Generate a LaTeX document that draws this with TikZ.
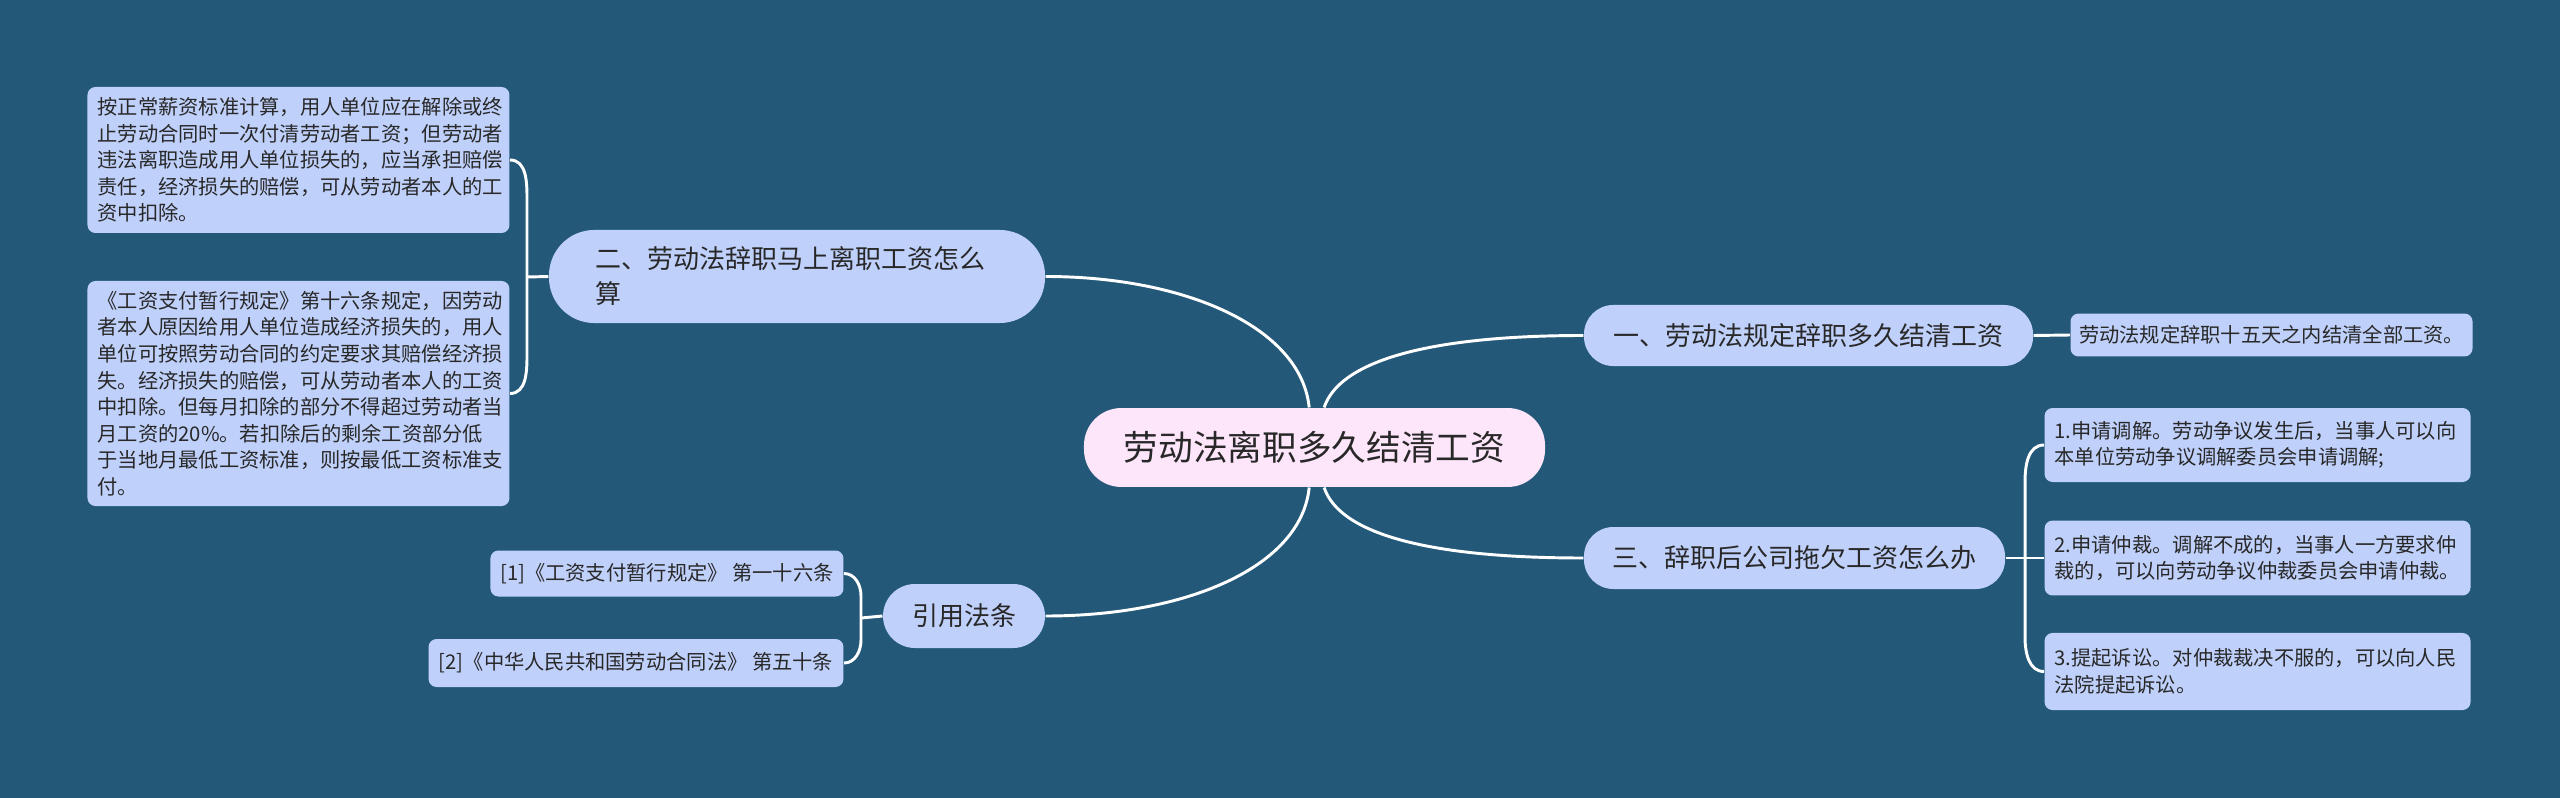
\documentclass[tikz,border=0pt]{standalone}
\usepackage{fontspec}
\setmainfont{Noto Sans CJK SC}
\usetikzlibrary{positioning}
\definecolor{bg}{RGB}{35,88,121}
\definecolor{nodeblue}{RGB}{191,208,250}
\definecolor{centerpink}{RGB}{253,229,250}
\definecolor{txt}{RGB}{40,40,40}
\tikzset{
  base/.style={text=txt, inner ysep=0pt},
  mainnode/.style={base, fill=nodeblue, font=\fontsize{9.75pt}{13.1pt}\selectfont},
  leafnode/.style={base, fill=nodeblue, rounded corners=3pt, font=\fontsize{7.6pt}{9.94pt}\selectfont},
  conn/.style={draw=white, line width=1.1pt},
}
\begin{document}
\begin{tikzpicture}[x=0.375pt,y=-0.375pt]
\fill[bg] (0,0) rectangle (2560,798);
\useasboundingbox (0,0) rectangle (2560,798);

% center
\node[base, fill=centerpink, rounded corners=14pt, minimum width=172.9pt, minimum height=29.6pt, inner xsep=0pt,
  font=\fontsize{13pt}{16pt}\selectfont] (c) at (1314.5,447.5) {劳动法离职多久结清工资};

% branch 1
\node[mainnode, rounded corners=11pt, minimum width=168.4pt, minimum height=22.9pt, inner xsep=0pt] (n1) at (1808.5,335.5) {一、劳动法规定辞职多久结清工资};
\node[leafnode, anchor=west, minimum width=150.75pt, minimum height=16.1pt, inner xsep=0pt] (l0) at (2070,335) {劳动法规定辞职十五天之内结清全部工资。};

% branch 3
\node[mainnode, rounded corners=11pt, minimum width=157.9pt, minimum height=23.25pt, inner xsep=0pt] (n3) at (1794.5,558) {三、辞职后公司拖欠工资怎么办};
\node[leafnode, anchor=west, text width=152.25pt, inner xsep=3.75pt, minimum height=27.75pt, align=left] (r1) at (2044,445) {1.申请调解。劳动争议发生后，当事人可以向\\本单位劳动争议调解委员会申请调解;};
\node[leafnode, anchor=west, text width=152.25pt, inner xsep=3.75pt, minimum height=28.1pt, align=left] (r2) at (2044,558) {2.申请仲裁。调解不成的，当事人一方要求仲\\裁的，可以向劳动争议仲裁委员会申请仲裁。};
\node[leafnode, anchor=west, text width=152.25pt, inner xsep=3.75pt, minimum height=28.9pt, align=left] (r3) at (2044,671.5) {3.提起诉讼。对仲裁裁决不服的，可以向人民\\法院提起诉讼。};

% branch 2
\node[mainnode, rounded corners=17pt, text width=151.5pt, inner xsep=17.25pt, minimum height=34.9pt, align=left] (n2) at (797,276.5) {二、劳动法辞职马上离职工资怎么\\算};
\node[leafnode, anchor=east, text width=150.75pt, inner xsep=3.75pt, minimum height=54.75pt, align=left] (a) at (510,160) {按正常薪资标准计算，用人单位应在解除或终\\止劳动合同时一次付清劳动者工资；但劳动者\\违法离职造成用人单位损失的，应当承担赔偿\\责任，经济损失的赔偿，可从劳动者本人的工\\资中扣除。};
\node[leafnode, anchor=east, text width=150.75pt, inner xsep=3.75pt, minimum height=84.4pt, align=left] (b) at (510,393.5) {《工资支付暂行规定》第十六条规定，因劳动\\者本人原因给用人单位造成经济损失的，用人\\单位可按照劳动合同的约定要求其赔偿经济损\\失。经济损失的赔偿，可从劳动者本人的工资\\中扣除。但每月扣除的部分不得超过劳动者当\\月工资的20\%。若扣除后的剩余工资部分低\\于当地月最低工资标准，则按最低工资标准支\\付。};

% references
\node[mainnode, rounded corners=12pt, minimum width=60.75pt, minimum height=24pt, inner xsep=0pt] (yy) at (964,616) {引用法条};
\node[leafnode, anchor=east, minimum width=132.4pt, minimum height=17.25pt, inner xsep=0pt] (f1) at (844,573.5) {[1]《工资支付暂行规定》 第一十六条};
\node[leafnode, anchor=east, minimum width=155.6pt, minimum height=18pt, inner xsep=0pt] (f2) at (844,663) {[2]《中华人民共和国劳动合同法》 第五十条};

% bracket joints
\coordinate (j2) at (527,277);
\coordinate (j3) at (2025,558);
\coordinate (jy) at (861,618);

% center connectors
\draw[conn] ([xshift=-2pt]c.north) .. controls +(-8,-80) and +(140,0) .. (n2.east);
\draw[conn] ([xshift=3.6pt]c.north) .. controls +(15,-45) and +(-160,0) .. (n1.west);
\draw[conn] ([xshift=-2pt]c.south) .. controls +(-8,80) and +(140,0) .. (yy.east);
\draw[conn] ([xshift=3.6pt]c.south) .. controls +(15,45) and +(-160,0) .. (n3.west);

% branch 1 leaf
\draw[conn] (n1.east) -- (l0.west);

% branch 2 bracket
\draw[conn] (n2.west) -- (j2);
\draw[conn] (a.east) to[out=0,in=90] (527,200) -- (527,355) to[out=-90,in=0] (b.east);

% branch 3 bracket
\draw[conn] (n3.east) -- (r2.west);
\draw[conn] (r1.west) to[out=180,in=90] (2025,482) -- (2025,637) to[out=-90,in=180] (r3.west);

% references bracket
\draw[conn] (yy.west) -- (jy);
\draw[conn] (f1.east) to[out=0,in=90] (861,596) -- (861,640) to[out=-90,in=0] (f2.east);
\end{tikzpicture}
\end{document}
